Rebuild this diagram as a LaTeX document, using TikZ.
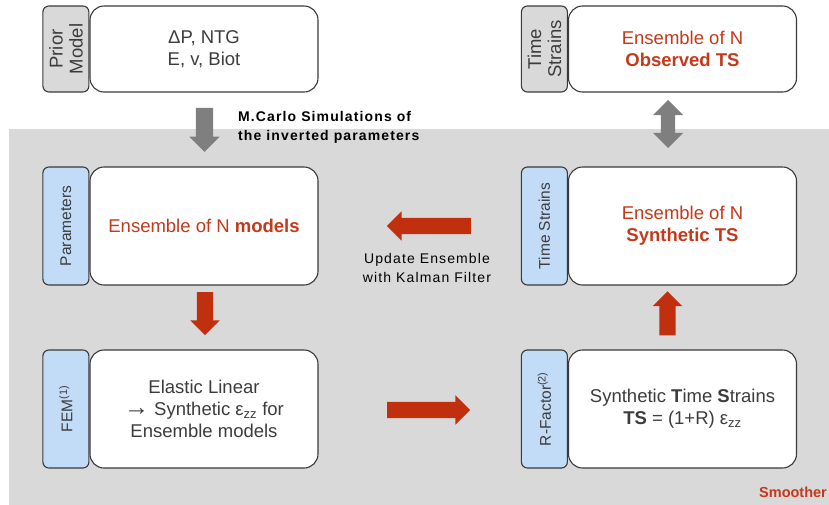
\documentclass[tikz,border=0pt]{standalone}
\usepackage{fontspec}
\setmainfont{Liberation Sans}
\usepackage{xcolor}
\usetikzlibrary{positioning,shapes.arrows}

\definecolor{bggrey}{HTML}{D9D9D9}
\definecolor{tabgrey}{HTML}{D9D9D9}
\definecolor{tabblue}{HTML}{C2DBF6}
\definecolor{linegrey}{HTML}{3A3A3A}
\definecolor{txtgrey}{HTML}{3C3C3C}
\definecolor{arrred}{HTML}{C0300F}
\definecolor{txtred}{HTML}{C4391A}
\definecolor{arrgrey}{HTML}{7F7F7F}

\begin{document}
\begin{tikzpicture}[x=1pt, y=-1pt,
        box/.style = {draw=linegrey, fill=white, line width=1.1pt, rounded corners=14pt,
            minimum width=228pt, align=center, text=txtgrey, font=\fontsize{18.5}{22}\selectfont},
        tab/.style = {draw=linegrey, line width=1.1pt, rounded corners=6pt, rotate=90,
            minimum height=46pt, anchor=south, align=center, inner sep=0pt,
            text=txtgrey, font=\fontsize{15.5}{19}\selectfont},
        bigtab/.style = {tab, fill=tabgrey, minimum width=86pt, font=\fontsize{18.5}{20}\selectfont},
        redarrow/.style = {single arrow, fill=arrred, inner xsep=0pt, inner ysep=8pt,
            minimum width=0pt, single arrow head extend=6.5pt, minimum height=#1},
        lbl/.style = {align=center, text=black, inner sep=0pt,
            font=\fontsize{14}{19}\selectfont\addfontfeatures{LetterSpace=8}},
    ]
    \clip (0,0) rectangle (829,504);
    \fill[bggrey] (9,129) rectangle (840,510);

    % top row
    \node [box, minimum height=86pt] (prior) at (204,49) {ΔP, NTG\\E, v, Biot};
    \node [bigtab] (tprior) at (prior.west) {Prior\\Model};
    \node [box, minimum height=86pt, text=txtred] (obs) at (682.5,49) {Ensemble of N\\\textbf{Observed TS}};
    \node [bigtab] (tobs) at (obs.west) {Time\\Strains};

    % middle row
    \node [box, minimum height=118pt, text=txtred] (models) at (204,226) {Ensemble of N \textbf{models}};
    \node [tab, fill=tabblue, minimum width=118pt] (tmodels) at (models.west) {Parameters};
    \node [box, minimum height=118pt, text=txtred] (synth) at (682.5,226) {Ensemble of N\\\textbf{Synthetic TS}};
    \node [tab, fill=tabblue, minimum width=118pt] (tsynth) at (synth.west) {Time Strains};

    % bottom row
    \node [box, minimum height=118pt] (fem) at (204,409) {Elastic Linear\\\scalebox{1.35}{→} Synthetic ε\textsubscript{zz} for\\Ensemble models};
    \node [tab, fill=tabblue, minimum width=118pt] (tfem) at (fem.west) {FEM\textsuperscript{(1)}};
    \node [box, minimum height=118pt] (rfac) at (682.5,409) {Synthetic \textbf{T}ime \textbf{S}trains\\\textbf{TS} = (1+R) ε\textsubscript{zz}};
    \node [tab, fill=tabblue, minimum width=118pt] (trfac) at (rfac.west) {R-Factor\textsuperscript{(2)}};

    % block arrows
    \node [single arrow, fill=arrgrey, inner xsep=0pt, inner ysep=8.5pt, minimum width=0pt,
        single arrow head extend=6.5pt, minimum height=44pt, rotate=-90] (amc) at (204.5,125.5) {};
    \node [double arrow, fill=arrgrey, inner xsep=0pt, inner ysep=7pt, minimum width=0pt,
        double arrow head extend=8pt, minimum height=48pt, rotate=90] (acmp) at (668,124) {};
    \node [redarrow=84pt, rotate=180] (aupd) at (433,226) {};
    \node [redarrow=43pt, rotate=-90] (afem) at (205,309.5) {};
    \node [redarrow=44pt, rotate=90] (asyn) at (667.5,317.5) {};
    \node [redarrow=83pt] (ar) at (424.5,410) {};

    % labels
    \node [lbl, align=left, anchor=west, font=\bfseries\fontsize{14}{19}\selectfont\addfontfeatures{LetterSpace=8}] (lmc) at (238,127.5) {M.Carlo Simulations of\\the inverted parameters};
    \node [lbl] (lupd) at (427,267.5) {Update Ensemble\\with Kalman Filter};
    \node [anchor=base west, inner sep=0pt, text=txtred, font=\bfseries\fontsize{14.5}{17}\selectfont] (lsm) at (759,497) {Smoother};
\end{tikzpicture}
\end{document}
